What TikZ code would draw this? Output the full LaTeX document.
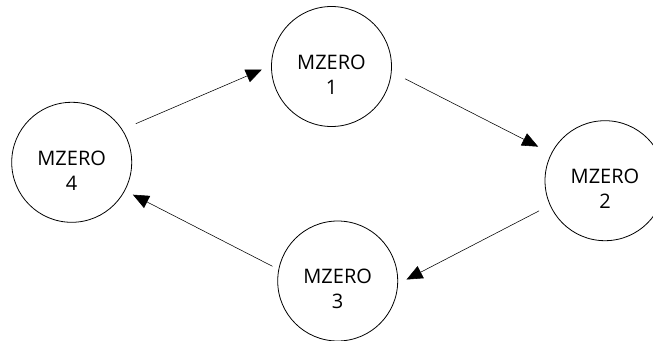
\documentclass[tikz,border=0pt]{standalone}
\usepackage{fontspec}
\setmainfont{Open Sans}
\usetikzlibrary{arrows.meta}
\begin{document}
\begin{tikzpicture}[x=1pt,y=-1pt,
  circ/.style={circle,draw,line width=0.8pt,minimum size=120pt,inner sep=0pt,outer sep=0pt},
  txt/.style={align=center,font=\fontsize{20}{25}\selectfont,inner sep=0pt},
  arr/.style={line width=0.55pt,-{Triangle[length=16pt,width=13.5pt]}}]
\useasboundingbox (0,0) rectangle (653,340);
\node[circ] (n1) at (331.5,66.5) {};
\node[circ] (n2) at (605,180.7) {};
\node[circ] (n3) at (337.7,281) {};
\node[circ] (n4) at (71.7,162.3) {};
\node[txt] (t1) at ([yshift=-8pt]n1.center) {MZERO\\1};
\node[txt] (t2) at ([yshift=-8pt]n2.center) {MZERO\\2};
\node[txt] (t3) at ([yshift=-8pt]n3.center) {MZERO\\3};
\node[txt] (t4) at ([yshift=-8pt]n4.center) {MZERO\\4};
\draw[arr, shorten <=15pt, shorten >=10.5pt] (n4.33.4) -- (n1.179.4);
\draw[arr, shorten <=15.5pt, shorten >=15pt] (n1.-5.2) -- (n2.153);
\draw[arr, shorten <=12.5pt, shorten >=10pt] (n2.204.4) -- (n3.-3.3);
\draw[arr, shorten <=7.2pt, shorten >=9.2pt] (n3.169.1) -- (n4.-28.9);
\end{tikzpicture}
\end{document}
